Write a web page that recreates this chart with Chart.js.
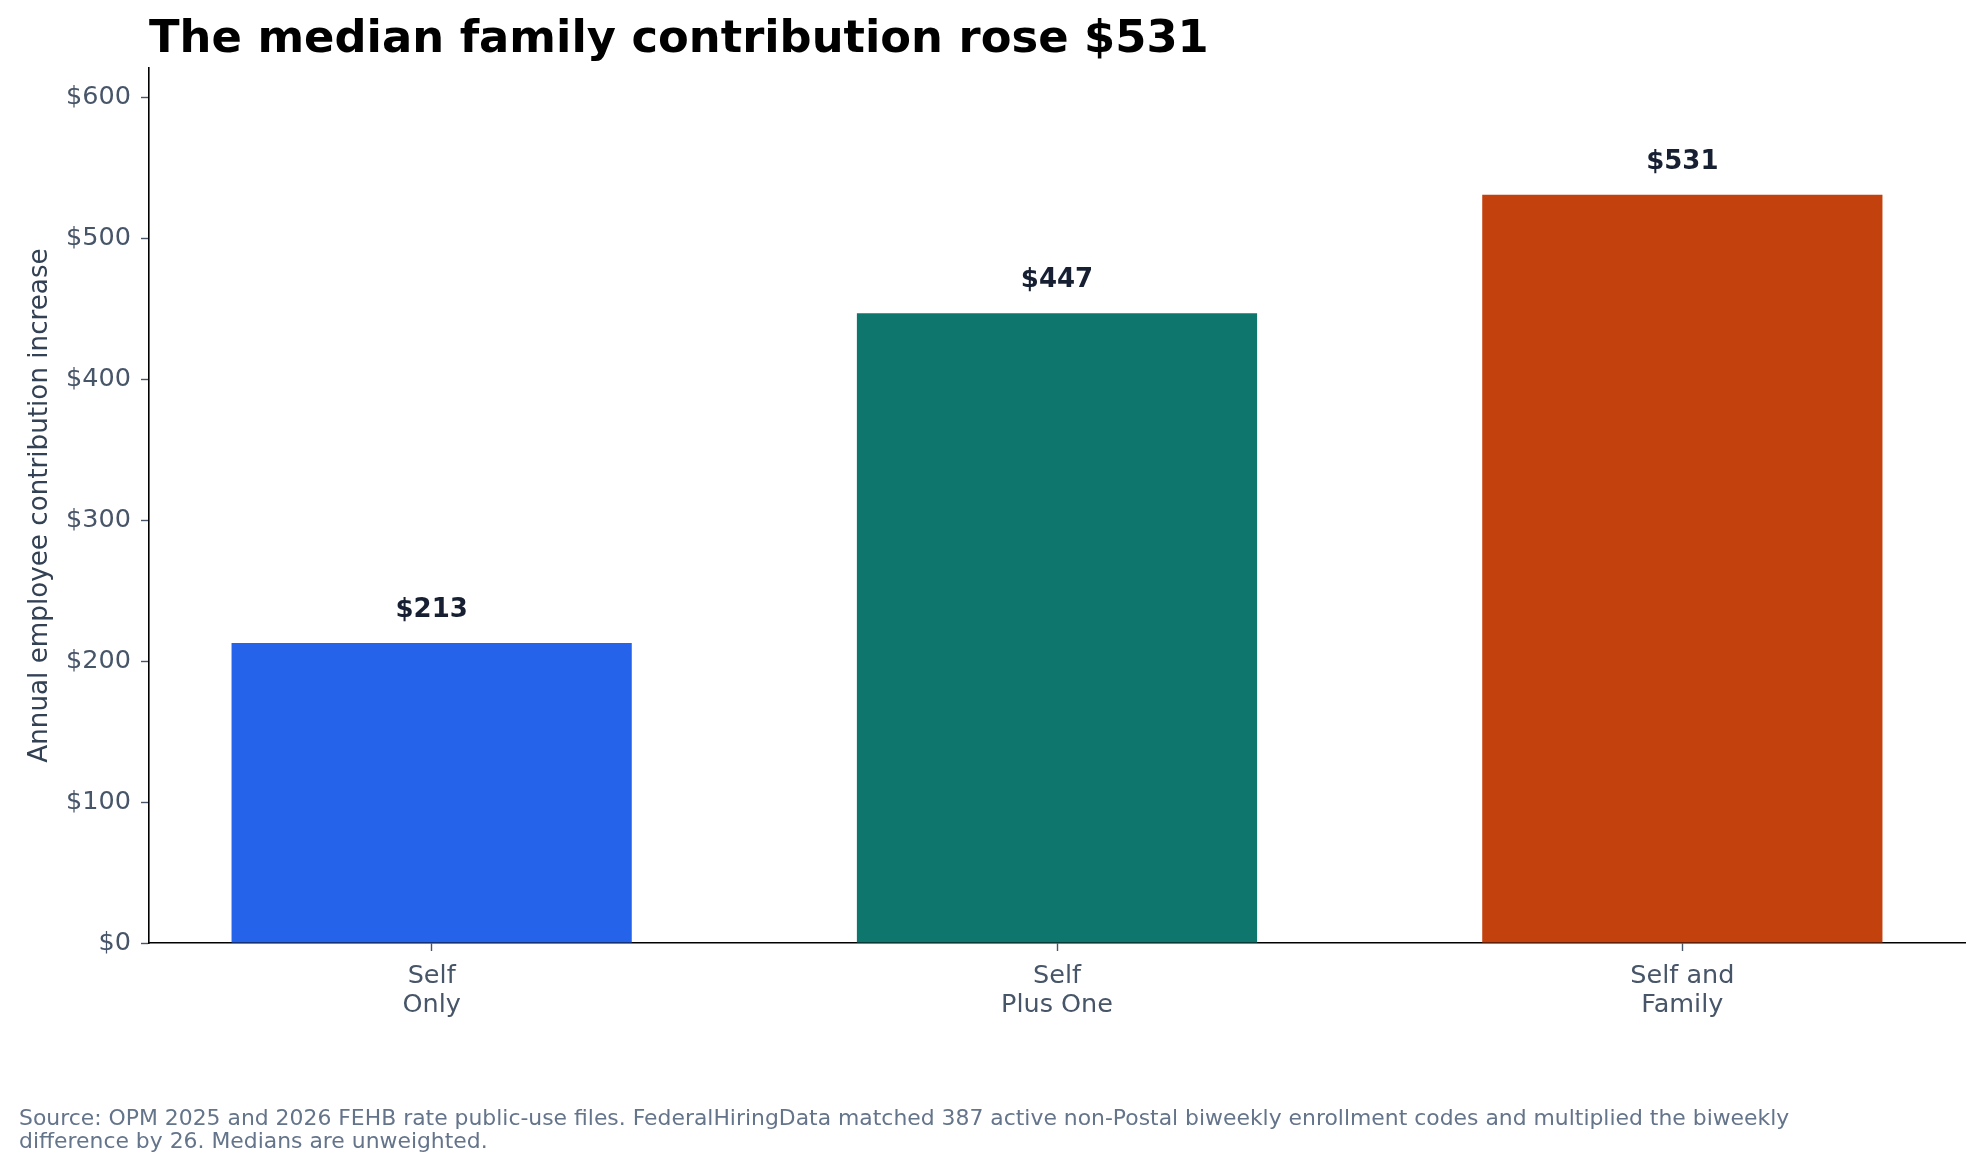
<!DOCTYPE html>
<html>
<head>
<meta charset="utf-8">
<script src="https://cdn.jsdelivr.net/npm/chart.js@4"></script>
<style>
  html, body { margin: 0; padding: 0; background: #fff; }
  #wrap { width: 1984px; height: 1171px; }
</style>
</head>
<body>
<div id="wrap"><canvas id="chart" width="1984" height="1171"></canvas></div>
<script>
// data
const categories = ['Self\nOnly', 'Self\nPlus One', 'Self and\nFamily'];
const increases = [213, 447, 531];
const barColors = ['#2563eb', '#0f766e', '#c2410c'];
const yTicks = [0, 100, 200, 300, 400, 500, 600];

const titleText = 'The median family contribution rose $531';
const sourceLines = [
    'Source: OPM 2025 and 2026 FEHB rate public-use files. FederalHiringData matched 387 active non-Postal biweekly enrollment codes and multiplied the biweekly',
    'difference by 26. Medians are unweighted.'
];

const FONT = '"DejaVu Sans", sans-serif';

// Title, source and value labels
const textPlugin = {
    id: 'texts',
    afterDatasetsDraw(chart) {
        const ctx = chart.ctx;
        const area = chart.chartArea;
        ctx.save();

        // value labels above bars
        ctx.font = 'bold 26px ' + FONT;
        ctx.fillStyle = '#172033';
        ctx.textAlign = 'center';
        ctx.textBaseline = 'alphabetic';
        chart.getDatasetMeta(0).data.forEach((bar, i) => {
            ctx.fillText('$' + increases[i], bar.x, bar.y - 26);
        });

        // title
        ctx.font = 'bold 44.8px ' + FONT;
        ctx.fillStyle = '#000000';
        ctx.textAlign = 'left';
        ctx.fillText(titleText, area.left, 52);

        // source note
        ctx.font = '21.9px ' + FONT;
        ctx.fillStyle = '#64748b';
        sourceLines.forEach((line, i) => {
            ctx.fillText(line, 19, 1125 + i * 23);
        });
        ctx.restore();
    }
};

new Chart(document.getElementById('chart'), {
    type: 'bar',
    data: {
        datasets: [{
            data: increases.map((v, i) => ({ x: i, y: v })),
            backgroundColor: barColors,
            borderWidth: 0,
            categoryPercentage: 1,
            barPercentage: 0.64
        }]
    },
    plugins: [textPlugin],
    options: {
        responsive: false,
        devicePixelRatio: 1,
        animation: false,
        layout: { padding: { top: 68, right: 19, bottom: 128, left: 0 } },
        plugins: { legend: { display: false }, tooltip: { enabled: false } },
        scales: {
            x: {
                type: 'linear',
                offset: false,
                min: -0.452,
                max: 2.452,
                afterFit: (scale) => { scale.height = 100; },
                afterBuildTicks: (scale) => {
                    scale.ticks = categories.map((c, i) => ({ value: i }));
                },
                grid: { offset: false, drawOnChartArea: false, drawTicks: true, tickLength: 8, tickColor: '#475569', tickWidth: 1.4 },
                border: { display: true, color: '#000000', width: 1.6 },
                ticks: {
                    color: '#475569',
                    font: { family: FONT, size: 25.5, lineHeight: 1.14 },
                    padding: 11,
                    maxRotation: 0,
                    callback: (v) => categories[v] ? categories[v].split('\n') : ''
                }
            },
            y: {
                min: 0,
                max: 621,
                afterFit: (scale) => { scale.width = 149; },
                afterBuildTicks: (scale) => {
                    scale.ticks = yTicks.map(v => ({ value: v }));
                },
                grid: { drawOnChartArea: false, drawTicks: true, tickLength: 8, tickColor: '#475569', tickWidth: 1.4 },
                border: { display: true, color: '#000000', width: 1.6 },
                ticks: {
                    color: '#475569',
                    font: { family: FONT, size: 25.5 },
                    padding: 10,
                    callback: (v) => '$' + v
                },
                title: {
                    display: true,
                    text: 'Annual employee contribution increase',
                    color: '#334155',
                    font: { family: FONT, size: 26.2 },
                    padding: { top: 24, bottom: 0 }
                }
            }
        }
    }
});
</script>
</body>
</html>
